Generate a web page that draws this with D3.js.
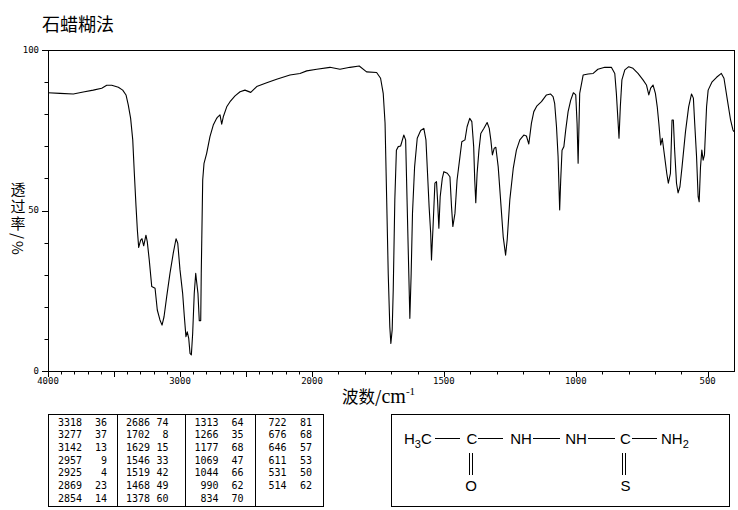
<!DOCTYPE html>
<html>
<head>
<meta charset="utf-8">
<script src="https://cdn.jsdelivr.net/npm/d3@7"></script>
<style>
  body { margin: 0; background: #fff; }
  svg { display: block; }
  .tick-lbl { font-family: "DejaVu Sans Mono", monospace; font-size: 9px; fill: #000; }
  .tbl { font-family: "DejaVu Sans Mono", monospace; font-size: 10px; fill: #000; }
  .cjk { font-family: "Noto Sans CJK SC", sans-serif; fill: #000; }
  .chem { font-family: "Liberation Sans", Arial, sans-serif; font-size: 15px; fill: #000; }
  .vlabel { writing-mode: vertical-rl; text-orientation: mixed; letter-spacing: 2px; }
</style>
</head>
<body>
<svg id="chart" width="738" height="510"></svg>
<script>
// ── Spectrum ──────────────────────────────────────────────────────────────
const wavenumbers = [
  4000, 3909, 3808, 3733, 3657, 3593, 3555, 3517, 3467, 3434, 3409, 3392, 3374, 3358, 3346, 3333,
  3323, 3313, 3298, 3288, 3275, 3258, 3248, 3233, 3214, 3189, 3172, 3152, 3136, 3121, 3101, 3076,
  3051, 3030, 3017, 3000, 2980, 2967, 2955, 2945, 2934, 2924, 2914, 2904, 2892, 2881, 2874, 2864,
  2854, 2843, 2839, 2828, 2818, 2798, 2773, 2748, 2722, 2717, 2697, 2684, 2672, 2646, 2621, 2583,
  2545, 2508, 2464, 2419, 2343, 2268, 2167, 2091, 2040, 1982, 1932, 1894, 1856, 1821, 1793, 1755,
  1740, 1730, 1723, 1717, 1711, 1705, 1701, 1696, 1692, 1686, 1680, 1673, 1664, 1652, 1645, 1639,
  1633, 1629, 1624, 1619, 1611, 1601, 1588, 1576, 1568, 1562, 1556, 1550, 1547, 1541, 1534, 1528,
  1524, 1519, 1514, 1506, 1500, 1487, 1477, 1471, 1466, 1458, 1450, 1439, 1432, 1420, 1412, 1402,
  1394, 1387, 1383, 1379, 1374, 1367, 1360, 1348, 1336, 1328, 1322, 1316, 1309, 1303, 1294, 1285,
  1275, 1266, 1260, 1250, 1237, 1225, 1212, 1197, 1187, 1178, 1168, 1159, 1147, 1130, 1111, 1096,
  1086, 1080, 1073, 1067, 1061, 1057, 1052, 1045, 1038, 1029, 1019, 1009, 1000, 995, 991, 985,
  972, 953, 934, 916, 890, 865, 852, 846, 840, 836, 831, 825, 814, 799, 783, 764,
  745, 732, 723, 716, 707, 698, 691, 685, 678, 672, 663, 655, 649, 641, 635, 630,
  625, 618, 612, 605, 597, 584, 572, 561, 554, 549, 542, 536, 532, 527, 522, 517,
  512, 504, 498, 483, 466, 448, 438, 425, 413, 404, 400
];
const transmittance = [
  86.7, 86.5, 86.3, 86.9, 87.5, 88.1, 89.0, 89.0, 88.4, 87.5, 86.0, 82.9, 78.7, 72.0, 61.6, 51.2,
  43.9, 38.5, 40.8, 41.2, 39.0, 42.3, 40.3, 34.6, 26.3, 25.8, 19.0, 15.9, 14.3, 16.9, 23.1, 30.4,
  36.7, 41.2, 39.8, 31.5, 24.2, 16.9, 10.7, 12.2, 10.2, 5.5, 5.0, 11.7, 24.2, 30.4, 27.8, 24.2,
  15.7, 15.7, 30.4, 59.5, 64.7, 67.8, 73.0, 76.6, 78.7, 79.0, 79.8, 76.9, 79.2, 82.3, 83.9, 85.7,
  87.0, 87.5, 86.8, 88.6, 89.8, 90.9, 92.2, 92.7, 93.5, 94.0, 94.6, 94.0, 94.6, 95.0, 93.2, 93.0,
  91.2, 86.5, 77.2, 54.0, 30.4, 13.8, 8.6, 12.8, 25.2, 53.3, 68.8, 69.9, 70.1, 73.5, 72.0, 51.2,
  30.4, 16.4, 30.4, 49.1, 63.6, 72.5, 74.9, 75.6, 72.0, 61.6, 51.2, 42.9, 34.6, 45.0, 58.5, 59.0,
  53.3, 44.5, 54.3, 60.0, 62.1, 61.6, 60.5, 51.2, 45.0, 49.1, 59.5, 66.8, 71.4, 72.0, 76.1, 78.7,
  77.7, 69.9, 59.5, 52.4, 61.6, 68.8, 74.0, 75.6, 77.4, 75.6, 72.0, 67.3, 69.4, 69.7, 63.6, 53.3,
  41.8, 36.1, 40.8, 53.3, 63.1, 68.8, 72.0, 73.5, 73.2, 70.7, 77.2, 80.8, 82.6, 83.9, 86.0, 86.3,
  85.5, 83.4, 76.1, 66.8, 50.2, 59.5, 68.8, 69.9, 75.1, 80.8, 84.4, 86.7, 86.0, 77.2, 64.7, 86.5,
  92.2, 92.5, 92.7, 94.0, 94.6, 94.6, 92.7, 86.5, 78.2, 72.5, 82.3, 90.7, 93.8, 94.8, 94.3, 92.7,
  90.7, 89.1, 86.0, 88.1, 89.1, 86.5, 82.3, 77.2, 70.4, 72.5, 66.8, 61.6, 58.5, 61.6, 78.2, 78.2,
  68.8, 58.5, 55.5, 57.4, 63.6, 74.5, 82.3, 86.3, 85.0, 77.2, 66.8, 54.3, 52.7, 63.6, 68.8, 65.7,
  67.3, 82.3, 87.5, 90.1, 91.5, 92.7, 91.2, 84.4, 78.2, 75.1, 74.5
];

// ── Peak table ────────────────────────────────────────────────────────────
const peakWn = [3318, 3277, 3142, 2957, 2925, 2869, 2854,
                2686, 1702, 1629, 1546, 1519, 1468, 1378,
                1313, 1266, 1177, 1069, 1044, 990, 834,
                722, 676, 646, 611, 531, 514];
const peakT  = [36, 37, 13, 9, 4, 23, 14,
                74, 8, 15, 33, 42, 49, 60,
                64, 35, 68, 47, 66, 62, 70,
                81, 68, 57, 53, 50, 62];

// ── Axis ticks ────────────────────────────────────────────────────────────
const xTickLabels = [4000, 3000, 2000, 1500, 1000, 500];
const yTickLabels = [0, 50, 100];

const svg = d3.select('#chart');

// piecewise x scale: the range 2000–400 is drawn at twice the spacing
const x = d3.scaleLinear().domain([4000, 2000, 400]).range([48, 312, 734]);
const y = d3.scaleLinear().domain([0, 100]).range([371, 50]);

// title
svg.append('text').attr('class', 'cjk')
  .attr('x', 42).attr('y', 31).attr('font-size', 18).text('石蜡糊法');

// frame
svg.append('rect')
  .attr('x', x(4000) + 0.5).attr('y', y(100) + 0.5)
  .attr('width', x(400) - x(4000)).attr('height', y(0) - y(100))
  .attr('fill', 'none').attr('stroke', '#000').attr('stroke-width', 1);

// x ticks
const xTicks = d3.range(500, 4001, 100);
svg.append('g').selectAll('line').data(xTicks).join('line')
  .attr('x1', d => Math.round(x(d)) + 0.5).attr('x2', d => Math.round(x(d)) + 0.5)
  .attr('y1', y(0) + 0.5).attr('y2', d => y(0) + (d % 500 === 0 ? 6 : 3.5))
  .attr('stroke', '#000');
svg.append('g').selectAll('text').data(xTickLabels).join('text')
  .attr('class', 'tick-lbl')
  .attr('x', d => x(d)).attr('y', 384)
  .attr('text-anchor', 'middle').text(d => d);

// y ticks
const yTicks = d3.range(0, 101, 10);
svg.append('g').selectAll('line').data(yTicks).join('line')
  .attr('x1', x(4000)).attr('x2', d => x(4000) - (d % 50 === 0 ? 6 : 3.5))
  .attr('y1', d => Math.round(y(d)) + 0.5).attr('y2', d => Math.round(y(d)) + 0.5)
  .attr('stroke', '#000');
svg.append('g').selectAll('text').data(yTickLabels).join('text')
  .attr('class', 'tick-lbl')
  .attr('x', 39).attr('y', d => y(d) + 2.5)
  .attr('text-anchor', 'end').text(d => d);

// y label: vertical writing, "/%" turns sideways by itself
svg.append('text').attr('class', 'cjk vlabel')
  .attr('x', 18).attr('y', 182).attr('font-size', 15)
  .text('透过率/%');

// x label
const xl = svg.append('text').attr('class', 'cjk')
  .attr('x', 342).attr('y', 403).attr('font-size', 16.5);
xl.append('tspan').text('波数/');
xl.append('tspan').attr('font-family', 'Liberation Serif, serif').attr('font-size', 20).text('cm');
xl.append('tspan').attr('font-family', 'Liberation Serif, serif')
  .attr('font-size', 11).attr('dy', -8).text('-1');

// spectrum
const pts = wavenumbers.map((w, i) => [w, transmittance[i]]);
svg.append('path').datum(pts)
  .attr('fill', 'none').attr('stroke', '#000').attr('stroke-width', 1.1)
  .attr('stroke-linejoin', 'round')
  .attr('d', d3.line().x(d => x(d[0])).y(d => y(d[1])));

// ── Peak table ────────────────────────────────────────────────────────────
const tbl = svg.append('g');
tbl.append('rect').attr('x', 48.5).attr('y', 414.5).attr('width', 275).attr('height', 92)
  .attr('fill', 'none').attr('stroke', '#000');
[117.5, 185.5, 255.5].forEach(cx => {
  tbl.append('line').attr('x1', cx).attr('x2', cx).attr('y1', 414.5).attr('y2', 506.5)
    .attr('stroke', '#000');
});
const colWnEnd = [82, 150, 218.5, 286.5];
const colTEnd  = [107, 168.5, 243.5, 312];
tbl.selectAll('text.wn').data(peakWn).join('text')
  .attr('class', 'tbl wn')
  .attr('x', (d, i) => colWnEnd[Math.floor(i / 7)])
  .attr('y', (d, i) => 425.5 + (i % 7) * 12.67)
  .attr('text-anchor', 'end').text(d => d);
tbl.selectAll('text.pt').data(peakT).join('text')
  .attr('class', 'tbl pt')
  .attr('x', (d, i) => colTEnd[Math.floor(i / 7)])
  .attr('y', (d, i) => 425.5 + (i % 7) * 12.67)
  .attr('text-anchor', 'end').text(d => d);

// ── Structure ─────────────────────────────────────────────────────────────
const st = svg.append('g');
st.append('rect').attr('x', 391.5).attr('y', 414.5).attr('width', 338).attr('height', 92)
  .attr('fill', 'none').attr('stroke', '#000');
const by = 438.5;
const h3c = st.append('text').attr('class', 'chem').attr('x', 404).attr('y', 444);
h3c.append('tspan').text('H');
h3c.append('tspan').attr('font-size', 11).attr('dy', 4).text('3');
h3c.append('tspan').attr('dy', -4).text('C');
[[472, 'C'], [521, 'NH'], [576, 'NH'], [625.5, 'C']].forEach(([cx, t]) => {
  st.append('text').attr('class', 'chem').attr('x', cx).attr('y', 444)
    .attr('text-anchor', 'middle').text(t);
});
const nh2 = st.append('text').attr('class', 'chem').attr('x', 661).attr('y', 444);
nh2.append('tspan').text('NH');
nh2.append('tspan').attr('font-size', 11).attr('dy', 4).text('2');
[[435, 460], [478, 503], [533, 560], [588, 615], [632, 657]].forEach(([a, b]) => {
  st.append('line').attr('x1', a).attr('x2', b).attr('y1', by).attr('y2', by).attr('stroke', '#000');
});
[469.5, 472.5, 622.5, 625.5].forEach(lx => {
  st.append('line').attr('x1', lx).attr('x2', lx).attr('y1', 453).attr('y2', 475).attr('stroke', '#000');
});
st.append('text').attr('class', 'chem').attr('x', 471).attr('y', 490.5)
  .attr('text-anchor', 'middle').text('O');
st.append('text').attr('class', 'chem').attr('x', 625.5).attr('y', 490.5)
  .attr('text-anchor', 'middle').text('S');
</script>
</body>
</html>
